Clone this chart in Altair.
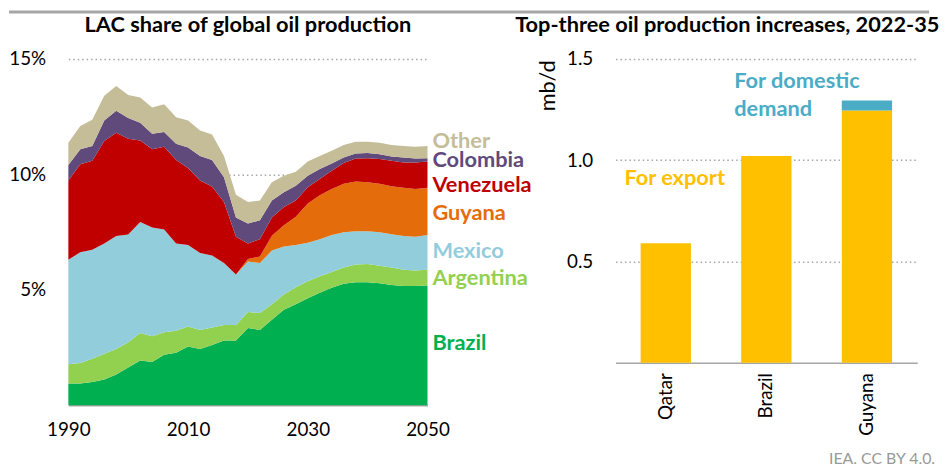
import altair as alt
import pandas as pd

# ---------------- data: LAC share of global oil production (%) ----------------
years = list(range(1990, 2051, 2))
series_names = ["Brazil", "Argentina", "Mexico", "Guyana", "Venezuela", "Colombia", "Other"]

brazil = [0.94, 0.94, 1.01, 1.11, 1.33, 1.63, 1.94, 1.87, 2.19, 2.27, 2.54, 2.44, 2.61, 2.80, 2.80,
          3.34, 3.26, 3.70, 4.13, 4.37, 4.63, 4.87, 5.09, 5.26, 5.33, 5.33, 5.28, 5.21, 5.16, 5.16, 5.19]
argentina = [0.83, 0.89, 1.00, 1.12, 1.11, 1.10, 1.19, 1.12, 0.97, 0.96, 0.87, 0.82, 0.76, 0.67, 0.67,
             0.70, 0.73, 0.67, 0.67, 0.74, 0.74, 0.72, 0.68, 0.71, 0.76, 0.79, 0.76, 0.76, 0.71, 0.68, 0.68]
mexico = [4.53, 4.80, 4.72, 4.78, 4.89, 4.67, 4.81, 4.71, 4.45, 3.78, 3.53, 3.33, 3.12, 2.69, 2.19,
          2.19, 2.17, 2.33, 2.07, 1.83, 1.67, 1.60, 1.60, 1.52, 1.45, 1.42, 1.45, 1.44, 1.46, 1.46, 1.50]
guyana = [0, 0, 0, 0, 0, 0, 0, 0, 0, 0, 0, 0, 0, 0, 0,
          0.10, 0.28, 0.64, 0.93, 1.22, 1.70, 1.90, 2.00, 2.10, 2.15, 2.12, 2.10, 2.08, 2.09, 2.07, 2.05]
venezuela = [3.43, 3.81, 3.86, 4.43, 4.47, 4.14, 3.53, 3.39, 3.59, 3.61, 3.33, 3.14, 2.98, 2.64, 1.64,
             0.68, 0.75, 0.79, 0.79, 0.71, 0.70, 0.71, 0.79, 0.90, 1.00, 1.04, 1.07, 1.10, 1.09, 1.14, 1.14]
colombia = [0.68, 0.65, 0.64, 0.89, 0.96, 0.90, 0.76, 0.67, 0.63, 0.71, 0.89, 1.07, 1.15, 1.07, 0.83,
            0.86, 0.82, 0.74, 0.64, 0.64, 0.50, 0.43, 0.31, 0.24, 0.21, 0.22, 0.21, 0.18, 0.22, 0.18, 0.14]
other = [0.96, 1.00, 1.14, 1.07, 1.07, 1.00, 1.10, 1.14, 1.21, 1.14, 1.17, 1.10, 1.11, 0.93, 0.99,
         0.93, 0.86, 0.79, 0.71, 0.60, 0.62, 0.57, 0.55, 0.54, 0.51, 0.49, 0.50, 0.50, 0.50, 0.51, 0.53]

# ---------------- data: top-three oil production increases 2022-35 (mb/d) ----------------
countries = ["Qatar", "Brazil", "Guyana"]
for_export = [0.59, 1.02, 1.245]
for_domestic = [0.0, 0.0, 0.05]

# ---------------- styles ----------------
FONT = "Lato"
area_colors = ["#00B050", "#92D050", "#92CDDC", "#E46C0A", "#C00000", "#604A7B", "#C4BD97"]
label_baselines = [294.7, 228, 201.3, 163, 134.7, 109.7, 89.7]  # px from plot top
GRID = "#A6A6A6"
EXPORT_C = "#FFC000"
DOMESTIC_C = "#4BACC6"

rows = []
for i, (name, vals) in enumerate(zip(series_names, [brazil, argentina, mexico, guyana,
                                                      venezuela, colombia, other])):
    for yr, v in zip(years, vals):
        rows.append({"year": yr, "series": name, "value": v, "order": i})
df = pd.DataFrame(rows)

LW, LH = 363, 350
RW, RH = 305, 307
TITLE_SIZE = 22
one = pd.DataFrame({"a": [0]})


def text_layer(txt, x, y, color="black", size=22, weight="bold", align="left"):
    return alt.Chart(one).mark_text(align=align, baseline="alphabetic", font=FONT, fontSize=size,
                                    fontWeight=weight, color=color).encode(
        text=alt.value(txt), x=alt.value(x), y=alt.value(y))


area = alt.Chart(df).mark_area(interpolate="linear").encode(
    x=alt.X("year:Q", scale=alt.Scale(domain=[1990, 2050], nice=False, zero=False),
            axis=alt.Axis(values=[1990, 2010, 2030, 2050], format="d", title=None, grid=False,
                          ticks=False, labelPadding=16, labelFlush=False, domainColor=GRID,
                          domainWidth=1.5, labelFontSize=19, labelColor="black", labelFont=FONT)),
    y=alt.Y("value:Q", stack="zero", scale=alt.Scale(domain=[0, 15], nice=False),
            axis=alt.Axis(values=[5, 10, 15], labelExpr="datum.value + '%'", title=None, grid=True,
                          gridDash=[1.5, 3], gridColor=GRID, gridWidth=1.5, ticks=False,
                          domain=False, labelPadding=23, labelFontSize=19, labelColor="black",
                          labelFont=FONT)),
    color=alt.Color("series:N", scale=alt.Scale(domain=series_names, range=area_colors), legend=None),
    order=alt.Order("order:Q"),
)

# thin grey band across the top of the figure
top_band = alt.Chart(one).mark_rect(color=GRID).encode(
    x=alt.value(-60), x2=alt.value(870), y=alt.value(-49), y2=alt.value(-46))

left_layers = [area, top_band,
               text_layer("LAC share of global oil production", LW / 2, -27, size=TITLE_SIZE,
                          align="center")]
for name, col, yb in zip(series_names, area_colors, label_baselines):
    left_layers.append(text_layer(name, LW + 5, yb, color=col))

left = alt.layer(*left_layers).properties(width=LW, height=LH)

bar_rows = []
for c, e, d in zip(countries, for_export, for_domestic):
    bar_rows.append({"country": c, "part": "For export", "value": e, "order": 0})
    bar_rows.append({"country": c, "part": "For domestic demand", "value": d, "order": 1})
bdf = pd.DataFrame(bar_rows)

bars = alt.Chart(bdf).mark_bar().encode(
    x=alt.X("country:N", sort=countries, scale=alt.Scale(paddingInner=0.5, paddingOuter=0.25),
            axis=alt.Axis(title=None, labelAngle=-90, ticks=False, domainColor=GRID, domainWidth=1.5,
                          labelPadding=10, labelFontSize=19, labelColor="black", labelFont=FONT)),
    y=alt.Y("value:Q", stack="zero", scale=alt.Scale(domain=[0, 1.5], nice=False),
            axis=alt.Axis(values=[0.5, 1.0, 1.5], format=".1f", title="mb/d", titleX=-69, titleY=1,
                          titleAngle=270, titleAlign="right", titleBaseline="middle",
                          titleFont=FONT, titleFontSize=22, titleFontWeight="normal",
                          titleColor="black", grid=True, gridDash=[1.5, 3], gridColor=GRID,
                          gridWidth=1.5, ticks=False, domain=False, labelPadding=23,
                          labelFontSize=19, labelColor="black", labelFont=FONT)),
    color=alt.Color("part:N", scale=alt.Scale(domain=["For export", "For domestic demand"],
                                              range=[EXPORT_C, DOMESTIC_C]), legend=None),
    order=alt.Order("order:Q"),
)

right = alt.layer(
    bars,
    text_layer("Top-three oil production increases, 2022-35", 113, -27, size=TITLE_SIZE,
               align="center"),
    text_layer("For export", 9, 127, color=EXPORT_C),
    text_layer("For domestic", 120, 29, color=DOMESTIC_C),
    text_layer("demand", 120, 57.3, color=DOMESTIC_C),
    text_layer("IEA. CC BY 4.0.", 323, 409, color="#999999", size=16, weight="normal",
               align="right"),
).properties(width=RW, height=RH)

chart = alt.hconcat(left, right, spacing=190, bounds="flush",
                    padding={"left": 0, "top": 0, "right": 0, "bottom": 0}).resolve_scale(
    color="independent").configure_view(stroke=None)

chart.save("out.html", embed_options={"renderer": "svg", "actions": False})
